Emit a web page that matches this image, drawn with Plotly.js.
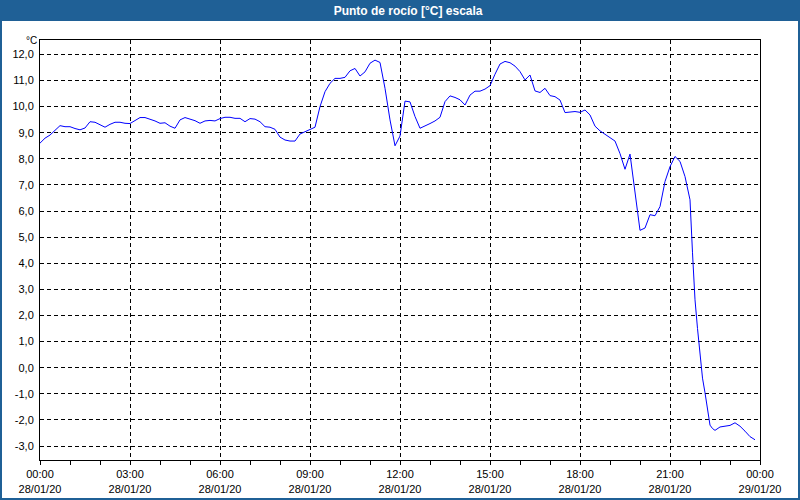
<!DOCTYPE html>
<html><head><meta charset="utf-8">
<script src="https://cdn.plot.ly/plotly-3.0.1.min.js"></script>
<style>html,body{margin:0;padding:0;background:#fff;}#chart{width:800px;height:500px;}</style>
</head><body><div id="chart"></div>
<script>
const day = '2020-01-28 ';
const times = ['00:00','00:10','00:20','00:30','00:40','00:50','01:00','01:10','01:20','01:30','01:40','01:50',
'02:00','02:10','02:20','02:30','02:40','02:50','03:00','03:10','03:20','03:30','03:40','03:50',
'04:00','04:10','04:20','04:30','04:40','04:50','05:00','05:10','05:20','05:30','05:40','05:50',
'06:00','06:10','06:20','06:30','06:40','06:50','07:00','07:10','07:20','07:30','07:40','07:50',
'08:00','08:10','08:20','08:30','08:40','08:50','09:00','09:10','09:20','09:30','09:40','09:50',
'10:00','10:10','10:20','10:30','10:40','10:50','11:00','11:10','11:20','11:30','11:40','11:50',
'12:00','12:10','12:20','12:30','12:40','12:50','13:00','13:10','13:20','13:30','13:40','13:50',
'14:00','14:10','14:20','14:30','14:40','14:50','15:00','15:10','15:20','15:30','15:40','15:50',
'16:00','16:10','16:20','16:30','16:40','16:50','17:00','17:10','17:20','17:30','17:40','17:50',
'18:00','18:10','18:20','18:30','18:40','18:50','19:00','19:10','19:20','19:30','19:40','19:50',
'20:00','20:10','20:20','20:30','20:40','20:50','21:00','21:10','21:20','21:30','21:40','21:45','21:50','21:55',
'22:00','22:05','22:10','22:15','22:20','22:25','22:30','22:40','22:50','23:00','23:10','23:20','23:30','23:40','23:50'];
const dewPoint = [8.60,8.79,8.91,9.11,9.27,9.23,9.23,9.16,9.11,9.18,9.42,9.40,
9.30,9.21,9.32,9.40,9.40,9.36,9.35,9.46,9.58,9.58,9.52,9.45,
9.36,9.38,9.25,9.17,9.49,9.58,9.52,9.46,9.36,9.45,9.47,9.45,
9.54,9.59,9.59,9.55,9.55,9.42,9.54,9.52,9.42,9.23,9.21,9.13,
8.83,8.72,8.68,8.68,8.95,9.03,9.11,9.21,10.00,10.57,10.89,11.08,
11.08,11.12,11.37,11.46,11.17,11.33,11.66,11.78,11.69,10.70,9.49,8.50,
8.87,10.21,10.18,9.62,9.17,9.25,9.35,9.45,9.59,10.19,10.41,10.35,
10.26,10.06,10.44,10.59,10.59,10.67,10.80,11.24,11.63,11.73,11.68,11.55,
11.34,11.02,11.21,10.60,10.54,10.70,10.42,10.38,10.25,9.77,9.78,9.81,
9.78,9.87,9.68,9.25,9.07,8.94,8.79,8.68,8.20,7.60,8.18,6.75,
5.26,5.35,5.86,5.82,6.17,7.13,7.70,8.09,7.90,7.32,6.43,4.40,2.60,1.50,
0.40,-0.40,-0.96,-1.65,-2.20,-2.33,-2.40,-2.27,-2.24,-2.21,-2.11,-2.24,-2.43,-2.64,-2.76];
const xTickTimes = ['2020-01-28 00:00','2020-01-28 03:00','2020-01-28 06:00','2020-01-28 09:00','2020-01-28 12:00','2020-01-28 15:00','2020-01-28 18:00','2020-01-28 21:00','2020-01-29 00:00'];
const xTickLabels = ['00:00<br>28/01/20','03:00<br>28/01/20','06:00<br>28/01/20','09:00<br>28/01/20','12:00<br>28/01/20','15:00<br>28/01/20','18:00<br>28/01/20','21:00<br>28/01/20','00:00<br>29/01/20'];
const yTickVals = [-3,-2,-1,0,1,2,3,4,5,6,7,8,9,10,11,12];
const yTickLabels = ['-3,0','-2,0','-1,0','0,0','1,0','2,0','3,0','4,0','5,0','6,0','7,0','8,0','9,0','10,0','11,0','12,0'];
const titleText = 'Punto de rocío [°C] escala';
const unitText = '°C';

const L = 40, R = 40, T = 40, B = 40, W = 800, H = 500;
const pw = W - L - R, ph = H - T - B;
const px = v => (v - L) / pw;
const py = v => (H - B - v) / ph;
const blue = '#1f6096';

const trace = {
  x: times.map(t => day + t), y: dewPoint, type: 'scatter', mode: 'lines',
  line: {color: '#0000ff', width: 1}, hoverinfo: 'skip'
};
const layout = {
  width: W, height: H, margin: {l: L, r: R, t: T, b: B},
  paper_bgcolor: '#ffffff', plot_bgcolor: '#ffffff', showlegend: false,
  font: {family: 'Liberation Sans, Arial, sans-serif', size: 11, color: '#000'},
  title: {text: '<b>' + titleText + '</b>', font: {family: 'Liberation Sans, Arial, sans-serif', size: 12, color: '#fff'},
          x: 409/800, xanchor: 'center', xref: 'paper', y: 1 - 10.5/500, yanchor: 'middle', yref: 'container'},
  xaxis: {type: 'date', range: ['2020-01-28 00:00', '2020-01-29 00:00'],
    tickvals: xTickTimes, ticktext: xTickLabels, ticks: 'outside', ticklen: 4, tickcolor: '#000',
    showline: true, linecolor: '#000', linewidth: 1, mirror: true,
    showgrid: true, gridcolor: '#000', gridwidth: 1, griddash: '4px,3px', zeroline: false,
    minor: {dtick: 3600000, tick0: '2020-01-28 00:00', ticks: 'outside', ticklen: 4, tickcolor: '#000', showgrid: false},
    tickfont: {size: 11, color: '#000'}, fixedrange: true},
  yaxis: {range: [-3.535, 12.55], tickvals: yTickVals, ticktext: yTickLabels, ticks: '',
    showline: true, linecolor: '#000', linewidth: 1, mirror: true,
    showgrid: true, gridcolor: '#000', gridwidth: 1, griddash: '4px,3px', zeroline: false,
    ticklabelstandoff: 3, tickfont: {size: 11, color: '#000'}, fixedrange: true},
  shapes: [
    {type: 'rect', xref: 'paper', yref: 'paper', x0: px(0), x1: px(800), y0: py(21), y1: py(0), fillcolor: blue, line: {width: 0}, layer: 'below'},
    {type: 'rect', xref: 'paper', yref: 'paper', x0: px(0), x1: px(2), y0: py(500), y1: py(21), fillcolor: blue, line: {width: 0}},
    {type: 'rect', xref: 'paper', yref: 'paper', x0: px(798), x1: px(800), y0: py(500), y1: py(21), fillcolor: blue, line: {width: 0}},
    {type: 'rect', xref: 'paper', yref: 'paper', x0: px(0), x1: px(800), y0: py(500), y1: py(498), fillcolor: blue, line: {width: 0}}
  ],
  annotations: [
    {text: unitText, xref: 'paper', yref: 'paper', x: px(38), y: py(47), xanchor: 'right', yanchor: 'bottom', showarrow: false,
     borderpad: 0, font: {size: 10, color: '#000'}}
  ]
};
Plotly.newPlot('chart', [trace], layout, {staticPlot: true, displayModeBar: false});
</script></body></html>
